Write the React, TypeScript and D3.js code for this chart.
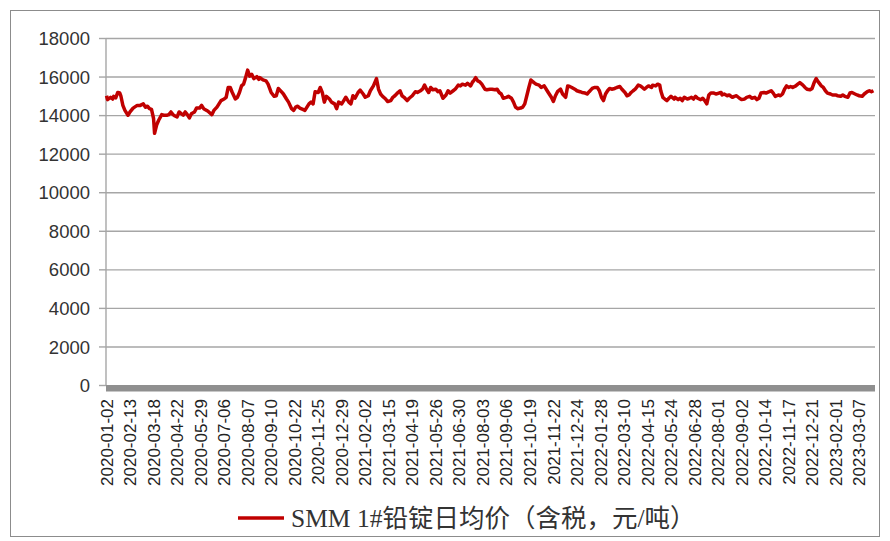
import React from 'react';
import * as d3 from 'd3';

const tickLabels = [
  '2020-01-02', '2020-02-13', '2020-03-18', '2020-04-22', '2020-05-29', '2020-07-06',
  '2020-08-07', '2020-09-10', '2020-10-22', '2020-11-25', '2020-12-29', '2021-02-02',
  '2021-03-15', '2021-04-19', '2021-05-26', '2021-06-30', '2021-08-03', '2021-09-06',
  '2021-10-19', '2021-11-22', '2021-12-24', '2022-01-28', '2022-03-10', '2022-04-15',
  '2022-05-24', '2022-06-28', '2022-08-01', '2022-09-02', '2022-10-14', '2022-11-17',
  '2022-12-21', '2023-02-01', '2023-03-07',
];
const tickEvery = 23;
const dayCount = 752;
const yTicks = [0, 2000, 4000, 6000, 8000, 10000, 12000, 14000, 16000, 18000];
const seriesName = 'SMM 1#铅锭日均价（含税，元/吨）';

// [trading-day index, price]
const price2020: [number, number][] = [
  [0, 15030], [1, 14830], [4, 14950], [6, 14860], [7, 15000], [9, 14920], [11, 15200], [13, 15170], [14, 15030], [16, 14530],
  [18, 14270], [21, 14020], [23, 14190], [26, 14390], [30, 14530], [33, 14530], [36, 14610], [38, 14440], [40, 14490], [42, 14360],
  [44, 14320], [46, 13850], [47, 13080], [49, 13510], [51, 13760], [54, 14050], [56, 14020], [59, 14020], [61, 14050], [63, 14190],
  [65, 14050], [67, 13980], [69, 13930], [71, 14190], [73, 14100], [75, 14020], [77, 14190], [79, 14050], [81, 13880], [83, 14100],
  [86, 14190], [88, 14390], [91, 14390], [93, 14530], [95, 14360], [98, 14270], [100, 14190], [103, 14050], [105, 14270], [108, 14440],
  [110, 14610], [112, 14780], [115, 14860], [117, 14950], [119, 15460], [121, 15460], [123, 15200], [126, 14860], [128, 14950], [130, 15200],
  [132, 15540], [134, 15630], [136, 15970], [138, 16360], [140, 16050], [142, 16140], [144, 15920], [147, 16020], [149, 15880],
  [150, 15970], [153, 15850], [156, 15800], [158, 15630], [161, 15200], [164, 15000], [166, 15030], [168, 15410], [171, 15240], [173, 15120],
  [176, 14860], [178, 14700], [181, 14360], [183, 14270], [185, 14440], [187, 14490], [189, 14390], [192, 14320], [194, 14270], [196, 14440],
  [198, 14610], [200, 14700], [202, 14610], [204, 15240], [207, 15200], [209, 15460], [211, 15200], [213, 14700], [215, 15000], [218, 14860],
  [220, 14700], [223, 14610], [225, 14360], [227, 14700], [230, 14610], [232, 14780], [234, 14950], [237, 14700], [239, 14610], [241, 15030],
  [243, 14900], [246, 15200], [248, 15320], [251, 15120], [253, 14950], [256, 15030], [258, 15290], [261, 15540], [264, 15920], [266, 15370],
  [268, 15120], [270, 15000], [273, 14860], [275, 14730], [278, 14780], [280, 14950], [282, 15030], [285, 15200], [287, 15290], [289, 15030],
  [291, 14950], [294, 14780], [296, 14900], [299, 15030],
];
const price2021: [number, number][] = [
  [302, 15240], [304, 15200], [307, 15290], [309, 15370], [311, 15580], [313, 15370], [315, 15200], [317, 15460], [319, 15340], [322, 15370],
  [324, 15240], [326, 15290], [329, 14900], [332, 15070], [334, 15290], [336, 15170], [339, 15290], [341, 15370], [344, 15580], [346, 15540],
  [348, 15630], [351, 15580], [353, 15680], [356, 15540], [358, 15750], [359, 15800], [361, 15970], [363, 15800], [365, 15750], [367, 15630],
  [370, 15370], [372, 15340], [375, 15370], [377, 15370], [380, 15340], [382, 15370], [384, 15200], [386, 15120], [388, 14900], [391, 14950],
  [393, 15000], [396, 14900], [398, 14700], [400, 14440], [402, 14360], [405, 14390], [407, 14440], [409, 14610], [411, 15030], [413, 15460],
  [415, 15850], [418, 15710], [420, 15630], [423, 15580], [425, 15460], [428, 15540], [430, 15370], [432, 15200], [435, 14950], [437, 14730],
  [439, 15030], [441, 15240], [444, 15370], [446, 15120], [449, 14950], [451, 15540],
];
const price2022: [number, number][] = [
  [453, 15510], [455, 15460], [458, 15370], [460, 15290], [463, 15240], [465, 15200], [468, 15170], [470, 15120], [472, 15240], [475, 15410],
  [477, 15460], [480, 15460], [482, 15290], [484, 14950], [486, 14780], [488, 15120], [490, 15290], [492, 15410], [494, 15370], [497, 15410],
  [499, 15460], [502, 15510], [504, 15370], [507, 15200], [509, 15030], [511, 15070], [513, 15200], [515, 15290], [517, 15370], [520, 15580],
  [522, 15540], [524, 15460], [526, 15370], [528, 15460], [530, 15540], [533, 15460], [534, 15580], [537, 15540], [539, 15630], [541, 15580],
  [542, 15290], [544, 14950], [546, 14860], [548, 14780], [550, 14900], [552, 15000], [555, 14860], [556, 14950], [559, 14830], [561, 14900],
  [563, 14780], [565, 14950], [568, 14860], [570, 14900], [572, 14950], [574, 14860], [576, 15000], [578, 14900], [581, 14830], [583, 14900],
  [585, 14780], [587, 14610], [589, 15070], [591, 15170], [594, 15170], [596, 15120], [599, 15170], [601, 15200],
];
const price2023: [number, number][] = [
  [602, 15070], [604, 15120], [607, 15030], [609, 15070], [612, 14950], [614, 15000], [616, 15030], [619, 14900], [621, 14830], [624, 14860],
  [626, 14950], [629, 15000], [631, 14900], [634, 14950], [636, 14830], [638, 14900], [640, 15170], [643, 15200], [645, 15170], [648, 15240],
  [650, 15290], [652, 15170], [654, 15000], [657, 15070], [659, 15030], [661, 15120], [663, 15370], [665, 15540], [667, 15460], [669, 15510],
  [671, 15460], [674, 15540], [676, 15630], [678, 15710], [681, 15580], [683, 15460], [685, 15370], [688, 15340], [690, 15410], [692, 15710],
  [694, 15920], [696, 15750], [699, 15540], [701, 15460], [703, 15290], [705, 15170], [708, 15120], [710, 15070], [713, 15070], [715, 15030],
  [718, 15000], [720, 15070], [722, 15000], [725, 14950], [727, 15170], [729, 15200], [732, 15120], [734, 15070], [736, 15030], [739, 15000],
  [741, 15120], [744, 15240], [746, 15290], [748, 15240], [750, 15290],
];

const W = 890;
const H = 541;
const left = 106;
const right = 875;
const top = 38.5;
const bottom = 385.5;

export default function App() {
  const series = [...price2020, ...price2021, ...price2022, ...price2023];
  const x = d3.scaleLinear().domain([-0.5, dayCount - 0.5]).range([left, right]);
  const y = d3.scaleLinear().domain([0, 18000]).range([bottom, top]);
  const line = d3
    .line<[number, number]>()
    .x((d) => x(d[0]))
    .y((d) => y(d[1]));
  const sans = '"Liberation Sans", Arial, sans-serif';

  return (
    <svg
      width={W}
      height={H}
      style={{ position: 'absolute', left: 0, top: 0, background: '#fff' }}
    >
      <rect x={10.5} y={10.5} width={869} height={526} fill="#fff" stroke="#8c8c8c" strokeWidth={1} />
      {yTicks.map((t) => (
        <g key={t}>
          {t > 0 && (
            <line x1={left} x2={right} y1={y(t)} y2={y(t)} stroke="#a6a6a6" strokeWidth={1.4} />
          )}
          <line x1={left - 7} x2={left} y1={y(t)} y2={y(t)} stroke="#a6a6a6" strokeWidth={1.4} />
          <text
            x={90}
            y={y(t)}
            dy="0.36em"
            textAnchor="end"
            fontFamily={sans}
            fontSize={18.5}
            fill="#333"
          >
            {t}
          </text>
        </g>
      ))}
      <line x1={left} x2={left} y1={top} y2={bottom} stroke="#a6a6a6" strokeWidth={1.4} />
      <rect x={left} y={bottom - 0.5} width={right - left} height={6.5} fill="#8f8f8f" />
      {tickLabels.map((lab, k) => (
        <text
          key={lab}
          transform={`translate(${x(k * tickEvery)},399) rotate(-90)`}
          dy="0.36em"
          textAnchor="end"
          fontFamily={sans}
          fontSize={17}
          fill="#222"
        >
          {lab}
        </text>
      ))}
      <path d={line(series) || ''} fill="none" stroke="#c00000" strokeWidth={3.5} strokeLinejoin="round" />
      <line x1={238} x2={284} y1={518} y2={518} stroke="#c00000" strokeWidth={3.5} />
      <text
        x={291}
        y={518}
        dy="0.36em"
        fontFamily={'"Liberation Serif", "Times New Roman", "Noto Sans CJK SC", serif'}
        fontSize={25.5}
        fill="#333"
      >
        {seriesName}
      </text>
    </svg>
  );
}
